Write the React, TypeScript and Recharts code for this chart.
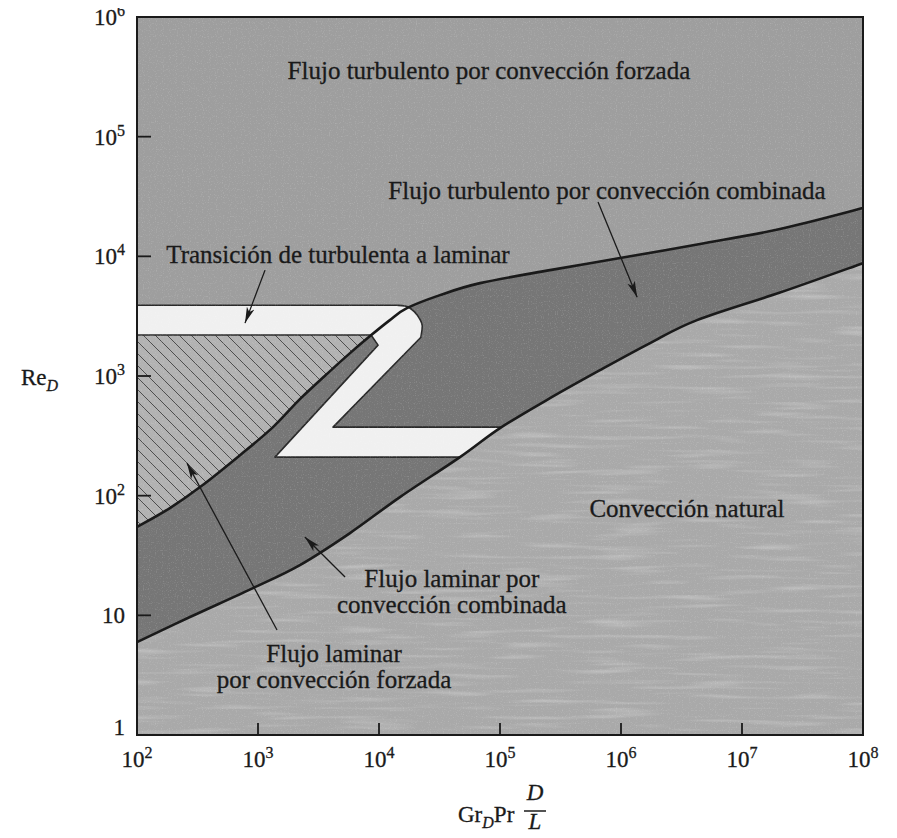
import React from 'react';
import { ScatterChart, Scatter, XAxis, YAxis } from 'recharts';

type Pt = { x: number; y: number };
const pts = (rows: number[][]): Pt[] => rows.map(([x, y]) => ({ x, y }));

// x = Gr_D Pr D/L, y = Re_D
// forced / combined boundary, laminar part (left edge up to the junction)
const laminarForcedEdge = pts([
  [100, 54.7], [187, 78.8], [332, 118], [710, 218], [1330, 374], [2220, 641],
  [3940, 1099], [5760, 1553], [8430, 2155], [12300, 2930], [17000, 3690],
]);
// forced / combined boundary, turbulent part (junction to right edge)
const turbulentForcedEdge = pts([
  [17000, 3690], [31900, 4740], [68400, 5970], [259000, 7670], [1190000, 10000],
  [4500000, 12700], [20600000, 16900], [100000000, 25300],
]);
// combined / natural convection boundary
const naturalEdge = pts([
  [100, 5.98], [274, 9.68], [910, 16.9], [2220, 26.3], [5760, 48.7], [14900, 97.3],
  [46700, 210], [100000, 367], [259000, 653], [670000, 1119], [1740000, 1884],
  [4250000, 2930], [20600000, 4980], [100000000, 8770],
]);
// white "Z" transition band: straight top, rounded end, diagonal and lower bar
const bandTop = pts([[100, 3900]]);
const bandEnd = pts([[14100, 3900], [16200, 3850], [18000, 3700], [20600, 3250], [22700, 2680], [22200, 2110]]);
const bandRest = pts([
  [4170, 374], [130000, 374], [60000, 210], [1380, 210], [9820, 1811], [8600, 2200], [100, 2200],
]);
const plotCorners = pts([[100, 1], [100, 1000000], [100000000, 1000000], [100000000, 1]]);
const bottomCorners = pts([[100000000, 1], [100, 1]]);

const xTicks = [1e2, 1e3, 1e4, 1e5, 1e6, 1e7, 1e8];
const yTicks = [1, 10, 1e2, 1e3, 1e4, 1e5, 1e6];

const regionLabels = [
  { x: 81000, y: 302000, text: 'Flujo turbulento por convección forzada' },
  { x: 766000, y: 30000, text: 'Flujo turbulento por convección combinada' },
  { x: 4580, y: 8770, text: 'Transición de turbulenta a laminar' },
  { x: 3510000, y: 66, text: 'Convección natural' },
  { x: 40000, y: 17.2, text: 'Flujo laminar por' },
  { x: 40000, y: 10.45, text: 'convección combinada' },
  { x: 4250, y: 4.07, text: 'Flujo laminar' },
  { x: 4250, y: 2.47, text: 'por convección forzada' },
];
const arrows = [
  pts([[1143, 7670], [781, 2767]]),
  pts([[646000, 28400], [1360000, 4560]]),
  pts([[5240, 20.9], [2440, 45.1]]),
  pts([[1436, 7.54], [259, 187]]),
];

type Run = { pts: Pt[]; smooth: boolean };
const run = (p: Pt[], smooth = true): Run => ({ pts: p, smooth });

const boundary = [...laminarForcedEdge, ...turbulentForcedEdge.slice(1)];
const regions = {
  combined: [run(boundary), run([...naturalEdge].reverse())],
  hatched: [run([{ x: 100, y: 2930 }], false), run(laminarForcedEdge.filter((p) => p.y <= 2930).reverse())],
  band: [run(bandTop, false), run(bandEnd), run(bandRest, false)],
  natural: [run(naturalEdge), run(bottomCorners, false)],
  plot: [run(plotCorners, false)],
};

// path through the scaled points; smooth runs get a Catmull-Rom curve
function runPath(points: { x: number; y: number }[], runs: Run[], closed: boolean) {
  let i = 0;
  let d = '';
  runs.forEach((r, k) => {
    const seg = points.slice(i, i + r.pts.length);
    i += r.pts.length;
    seg.forEach((p, j) => {
      if (k === 0 && j === 0) {
        d += `M${p.x},${p.y}`;
      } else if (r.smooth && j > 0) {
        const p1 = seg[j - 1];
        const p0 = seg[j - 2] ?? p1;
        const p3 = seg[j + 1] ?? p;
        d += ` C${p1.x + (p.x - p0.x) / 6},${p1.y + (p.y - p0.y) / 6} ${p.x - (p3.x - p1.x) / 6},${p.y - (p3.y - p1.y) / 6} ${p.x},${p.y}`;
      } else {
        d += ` L${p.x},${p.y}`;
      }
    });
  });
  return closed ? `${d} Z` : d;
}

const shapeLine = (runs: Run[], style: React.SVGProps<SVGPathElement>, closed = true) => (lp: any) => (
  <path d={runPath(lp.points, runs, closed)} {...style} />
);

const flat = (runs: Run[]) => runs.flatMap((r) => r.pts);

const FONT = '"Liberation Serif", "Times New Roman", serif';
const INK = '#1a1a1a';
const X_GAP = 32;
const Y_GAP = 12;

const none = () => <g />;

function XTick(props: any) {
  const { x, y, payload } = props;
  const exp = Math.round(Math.log10(payload.value));
  const axisY = y - X_GAP;
  return (
    <g>
      {exp > 2 && exp < 8 && <line x1={x} x2={x} y1={axisY} y2={axisY - 12} stroke={INK} strokeWidth={1.8} />}
      <text x={x} y={y} textAnchor="middle" fontFamily={FONT} fontSize={23} fill={INK} stroke={INK} strokeWidth={0.3}>
        10<tspan dy={-9} fontSize={16}>{exp}</tspan>
      </text>
    </g>
  );
}

function YTick(props: any) {
  const { x, y, payload } = props;
  const exp = Math.round(Math.log10(payload.value));
  const axisX = x + Y_GAP;
  return (
    <g>
      {exp > 0 && exp < 6 && <line x1={axisX} x2={axisX + 14} y1={y} y2={y} stroke={INK} strokeWidth={1.8} />}
      <text x={x} y={y + (exp === 0 ? 0 : 8)} textAnchor="end" fontFamily={FONT} fontSize={23} fill={INK} stroke={INK} strokeWidth={0.3}>
        {exp === 0 ? '1' : exp === 1 ? '10' : <>10<tspan dy={-9} fontSize={16}>{exp}</tspan></>}
      </text>
    </g>
  );
}

function XLabel(props: any) {
  const { x, y } = props.viewBox;
  return (
    <g fontFamily={FONT} fill={INK} stroke={INK} strokeWidth={0.3}>
      <text x={x + 321} y={y + 87} fontSize={23}>
        Gr<tspan dy={6} fontSize={16} fontStyle="italic">D</tspan><tspan dy={-6}>Pr</tspan>
      </text>
      <text x={x + 398} y={y + 65} fontSize={23} fontStyle="italic" textAnchor="middle">D</text>
      <line x1={x + 387} x2={x + 409} y1={y + 76} y2={y + 76} stroke={INK} strokeWidth={1.5} />
      <text x={x + 398} y={y + 94} fontSize={23} fontStyle="italic" textAnchor="middle">L</text>
    </g>
  );
}

function YLabel(props: any) {
  const { x, y, height } = props.viewBox;
  return (
    <text x={x + 21} y={y + height / 2 + 9} fontFamily={FONT} fontSize={23} fill={INK} stroke={INK} strokeWidth={0.3}>
      Re<tspan dy={6} fontSize={16} fontStyle="italic">D</tspan>
    </text>
  );
}

const regionText = (p: any) => (
  <text x={p.cx} y={p.cy} textAnchor="middle" fontFamily={FONT} fontSize={25} fill={INK} stroke={INK} strokeWidth={0.3}>
    {p.payload.text}
  </text>
);

const arrowLine = (p: any) => (
  <line
    x1={p.points[0].x}
    y1={p.points[0].y}
    x2={p.points[1].x}
    y2={p.points[1].y}
    stroke={INK}
    strokeWidth={1.3}
    markerEnd="url(#arrowHead)"
  />
);

export default function App() {
  return (
    <div style={{ margin: -8, background: '#fff' }}>
      <ScatterChart width={897} height={838} margin={{ top: 17, right: 34, left: 0, bottom: 0 }}>
        <defs>
          <pattern id="hatch" patternUnits="userSpaceOnUse" width={12} height={12}>
            <rect width={12} height={12} fill="#b2b2b2" />
            <path d="M0,0 L12,12 M-6,6 L6,18 M6,-6 L18,6" stroke="#4d4d4d" strokeWidth={1} />
          </pattern>
          <marker id="arrowHead" markerUnits="userSpaceOnUse" markerWidth={18} markerHeight={10} refX={16} refY={5} orient="auto">
            <path d="M0,1 L16,5 L0,9 L4,5 Z" fill={INK} />
          </marker>
          <filter id="grain" x="0" y="0" width="100%" height="100%">
            <feTurbulence type="fractalNoise" baseFrequency="0.85" numOctaves={1} seed={4} result="noise" />
            <feColorMatrix in="noise" type="matrix" values="0 0 0 0 1  0 0 0 0 1  0 0 0 0 1  0 0 0 2.4 -1.3" result="specks" />
            <feComposite in="specks" in2="SourceGraphic" operator="in" />
          </filter>
          <filter id="streaks" x="0" y="0" width="100%" height="100%">
            <feTurbulence type="fractalNoise" baseFrequency="0.012 0.2" numOctaves={2} seed={9} result="noise" />
            <feColorMatrix in="noise" type="matrix" values="0 0 0 0 1  0 0 0 0 1  0 0 0 0 1  0 0 0 3 -1.55" result="streak" />
            <feComposite in="streak" in2="SourceGraphic" operator="in" />
          </filter>
        </defs>
        <XAxis
          type="number"
          dataKey="x"
          scale="log"
          domain={[100, 100000000]}
          ticks={xTicks}
          interval={0}
          axisLine={false}
          tickLine={false}
          tickSize={0}
          tickMargin={X_GAP}
          tick={<XTick />}
          height={103}
          label={{ content: <XLabel /> }}
        />
        <YAxis
          type="number"
          dataKey="y"
          scale="log"
          domain={[1, 1000000]}
          ticks={yTicks}
          interval={0}
          axisLine={false}
          tickLine={false}
          tickSize={0}
          tickMargin={Y_GAP}
          tick={<YTick />}
          width={137}
          label={{ content: <YLabel /> }}
        />
        <Scatter data={flat(regions.plot)} shape={none} isAnimationActive={false} line={shapeLine(regions.plot, { fill: '#9e9e9e' })} />
        <Scatter data={flat(regions.combined)} shape={none} isAnimationActive={false} line={shapeLine(regions.combined, { fill: '#767676' })} />
        <Scatter data={flat(regions.hatched)} shape={none} isAnimationActive={false} line={shapeLine(regions.hatched, { fill: 'url(#hatch)' })} />
        <Scatter data={flat(regions.band)} shape={none} isAnimationActive={false} line={shapeLine(regions.band, { fill: '#f0f0f0', stroke: '#2a2a2a', strokeWidth: 1.6, strokeLinejoin: 'round' })} />
        <Scatter data={flat(regions.natural)} shape={none} isAnimationActive={false} line={shapeLine(regions.natural, { fill: '#a9a9a9' })} />
        <Scatter data={flat(regions.natural)} shape={none} isAnimationActive={false} line={shapeLine(regions.natural, { fill: '#fff', filter: 'url(#streaks)', opacity: 0.22 })} />
        <Scatter data={flat(regions.plot)} shape={none} isAnimationActive={false} line={shapeLine(regions.plot, { fill: '#fff', filter: 'url(#grain)', opacity: 0.25 })} />
        <Scatter data={boundary} shape={none} isAnimationActive={false} line={shapeLine([run(boundary)], { fill: 'none', stroke: INK, strokeWidth: 2.6 }, false)} />
        <Scatter data={naturalEdge} shape={none} isAnimationActive={false} line={shapeLine([run(naturalEdge)], { fill: 'none', stroke: INK, strokeWidth: 2.6 }, false)} />
        <Scatter data={flat(regions.plot)} shape={none} isAnimationActive={false} line={shapeLine(regions.plot, { fill: 'none', stroke: INK, strokeWidth: 2 })} />
        {arrows.map((a, i) => (
          <Scatter key={i} data={a} shape={none} isAnimationActive={false} line={arrowLine} />
        ))}
        <Scatter data={regionLabels} shape={regionText} isAnimationActive={false} />
      </ScatterChart>
    </div>
  );
}
